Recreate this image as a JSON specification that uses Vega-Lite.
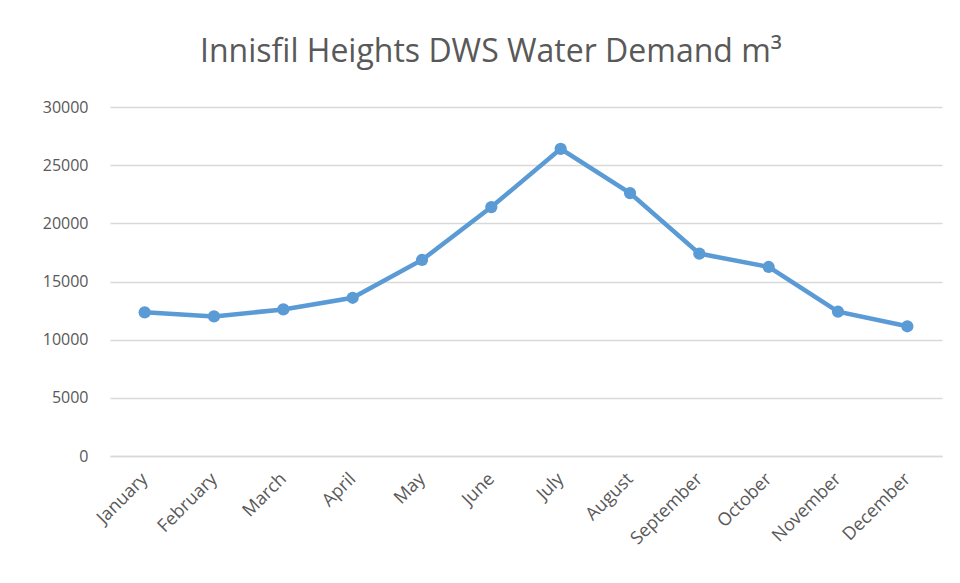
{
  "$schema": "https://vega.github.io/schema/vega-lite/v6.json",
  "width": 832,
  "height": 349,
  "autosize": {"type": "none"},
  "padding": {"left": 110, "top": 107, "right": 18, "bottom": 127},
  "background": "white",
  "title": {
    "text": "Innisfil Heights DWS Water Demand m³",
    "font": "Open Sans",
    "fontSize": 32,
    "fontWeight": "normal",
    "color": "#595959",
    "anchor": "middle",
    "offset": 30,
    "dx": -35
  },
  "data": {
    "values": [
      {"month": "January", "demand": 12350},
      {"month": "February", "demand": 12000},
      {"month": "March", "demand": 12600},
      {"month": "April", "demand": 13600},
      {"month": "May", "demand": 16850},
      {"month": "June", "demand": 21400},
      {"month": "July", "demand": 26400},
      {"month": "August", "demand": 22600},
      {"month": "September", "demand": 17400},
      {"month": "October", "demand": 16250},
      {"month": "November", "demand": 12400},
      {"month": "December", "demand": 11150}
    ]
  },
  "mark": {
    "type": "line",
    "color": "#5B9BD5",
    "strokeWidth": 4.5,
    "point": {"filled": true, "size": 150, "color": "#5B9BD5", "opacity": 1}
  },
  "encoding": {
    "x": {
      "field": "month",
      "type": "ordinal",
      "sort": null,
      "scale": {"paddingInner": 0, "paddingOuter": 0.5},
      "axis": {
        "title": null,
        "labelAngle": -45,
        "labelAlign": "right",
        "labelBaseline": "middle",
        "labelFont": "Open Sans",
        "labelFontSize": 18,
        "labelColor": "#595959",
        "labelPadding": 20,
        "ticks": false,
        "domain": true,
        "domainColor": "#D9D9D9",
        "domainWidth": 1.5,
        "grid": false
      }
    },
    "y": {
      "field": "demand",
      "type": "quantitative",
      "scale": {"domain": [0, 30000], "nice": false},
      "axis": {
        "title": null,
        "values": [0, 5000, 10000, 15000, 20000, 25000, 30000],
        "format": "d",
        "labelFont": "Open Sans",
        "labelFontSize": 16,
        "labelColor": "#595959",
        "labelPadding": 22,
        "ticks": false,
        "domain": false,
        "grid": true,
        "gridColor": "#D9D9D9",
        "gridWidth": 1.5
      }
    }
  },
  "config": {"view": {"stroke": null}}
}
